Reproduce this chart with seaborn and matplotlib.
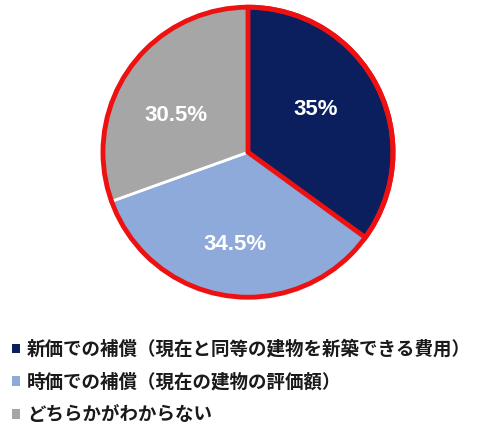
import numpy as np
import matplotlib.pyplot as plt
import matplotlib.patches as mpatches
import seaborn as sns

labels = ['新価での補償（現在と同等の建物を新築できる費用）',
          '時価での補償（現在の建物の評価額）',
          'どちらかがわからない']
shares = [35, 34.5, 30.5]
colors = ['#0b1f5e', '#8eaadb', '#a6a6a6']

sns.set_theme(style='white')
plt.rcParams['font.family'] = ['Noto Sans CJK JP', 'DejaVu Sans']

fig = plt.figure(figsize=(5, 4.3), dpi=100)
ax = fig.add_axes([0.2, 0.302, 0.592, 0.688])

wedges, texts, autotexts = ax.pie(
    shares, colors=colors, startangle=90, counterclock=False,
    autopct=lambda p: f'{p:g}%', pctdistance=0.6, radius=1,
    wedgeprops=dict(edgecolor='white', linewidth=2))

# label placement tweaks (distance from centre, angle shift in degrees)
nudges = [(0.55, 5), (0.64, 0), (0.56, 8)]
for w, t, (d, da) in zip(wedges, autotexts, nudges):
    ang = np.deg2rad((w.theta1 + w.theta2) / 2 + da)
    t.set_position((d * np.cos(ang), d * np.sin(ang)))
    t.set_color('white')
    t.set_fontsize(16)
    t.set_fontweight('bold')
    t.set_family(['Liberation Sans', 'DejaVu Sans'])

# red outline for the whole circle and the first slice
wedges[0].set_edgecolor('#ee1111')
wedges[0].set_linewidth(3.5)
wedges[0].set_zorder(3)
ax.add_patch(mpatches.Circle((0, 0), 1, fill=False, edgecolor='#ee1111',
                             linewidth=3.5, zorder=4))
ax.set_xlim(-1.02, 1.02)
ax.set_ylim(-1.02, 1.02)
ax.set_aspect('equal')
ax.axis('off')

handles = [mpatches.Patch(facecolor=c, edgecolor='none') for c in colors]
leg = fig.legend(handles, labels, loc='upper left', bbox_to_anchor=(0.01, 0.227),
                 frameon=False, borderaxespad=0, handlelength=0.4, handleheight=0.4,
                 handletextpad=0.4, labelspacing=0.75,
                 prop={'size': 13.3, 'weight': 'bold'})
for t in leg.get_texts():
    t.set_color('#1a1a1a')

fig.savefig('out.png', dpi=100)
